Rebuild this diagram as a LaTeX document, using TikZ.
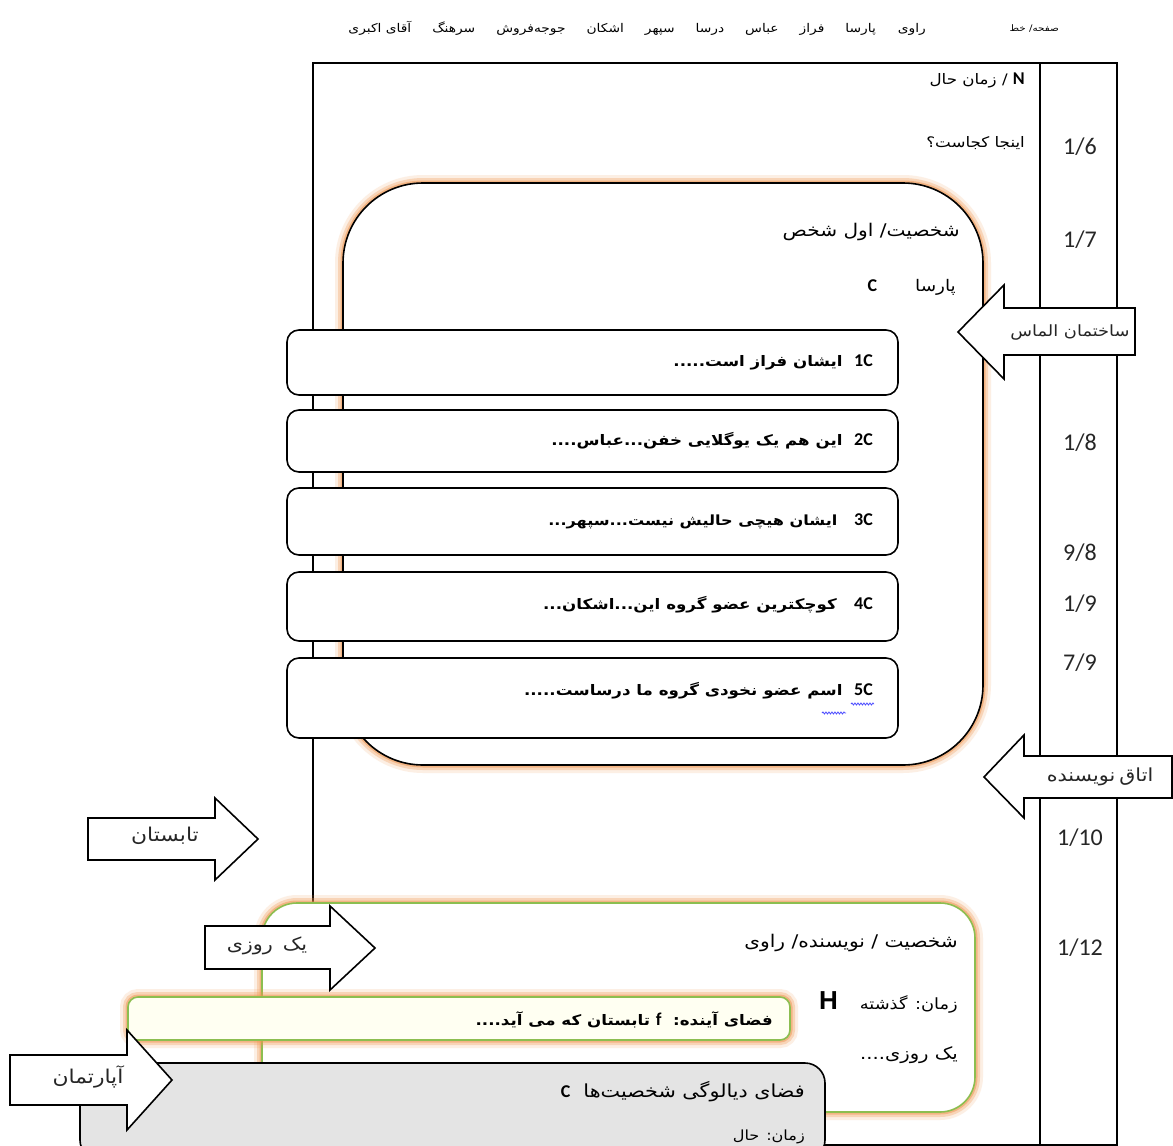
\documentclass[tikz,border=0pt]{standalone}
\usepackage{fontspec}
\setmainfont{Carlito}
\newfontfamily\fa[Script=Arabic, FakeStretch=1.15]{DejaVu Sans}
\TeXXeTstate=1
\usetikzlibrary{decorations.pathmorphing}
\definecolor{glowc}{RGB}{240,150,80}
\definecolor{grn}{RGB}{140,190,80}
\definecolor{ylw}{RGB}{255,255,242}
\definecolor{gry}{RGB}{228,228,228}
\newcommand\latb[1]{{\rmfamily\bfseries\fontsize{18}{20}\selectfont #1}}
\newcommand\fs[1]{\fontsize{#1}{#1}\selectfont}
\tikzset{
  x=1pt, y=-1pt,
  ln/.style={line width=1.6pt, black},
  glowbox/.style={preaction={draw=glowc, line width=16pt, opacity=0.15},
                  preaction={draw=glowc, line width=10pt, opacity=0.3},
                  preaction={draw=glowc, line width=5pt, opacity=0.5}},
  fatxt/.style={font=\fa\fs{14.5}, inner sep=0pt, anchor=east},
  fabold/.style={font=\fa\bfseries\fs{14.5}, inner sep=0pt, anchor=east},
  hdr/.style={font=\fa\fs{12}, inner sep=0pt},
  pgnum/.style={font=\fs{24}, inner sep=0pt, text=black!85},
  cbox/.style={ln, fill=white, rounded corners=12pt},
  barrow/.style={line width=1.6pt, fill=white, line join=miter},
  arrtxt/.style={font=\fa\fs{18}, inner sep=0pt, text=black!85},
  squig/.style={blue!70, line width=0.8pt, decorate, decoration={snake, amplitude=1pt, segment length=3pt}},
}
\begin{document}
\begin{tikzpicture}
\useasboundingbox (0,0) rectangle (1173,1146);
\fill[white] (0,0) rectangle (1173,1146);

% header
\node[hdr, anchor=east, font=\fa\fs{9}] (hpage) at (1059,28) {\beginR صفحه/ خط\endR};
\node[hdr, anchor=east] (hnames) at (926,28) {\beginR راوی\hspace{22pt}پارسا\hspace{21pt}فراز\hspace{21pt}عباس\hspace{21pt}درسا\hspace{21pt}سپهر\hspace{21pt}اشکان\hspace{21pt}جوجه‌فروش\hspace{21pt}سرهنگ\hspace{21pt}آقای اکبری\endR};

% frame
\draw[ln] (313,63) rectangle (1117,1145);
\draw[ln] (1040,63) -- (1040,1145);

\node[fatxt] (now) at (1025,80) {\beginR\latb{N} / زمان حال\endR};
\node[fatxt] (where) at (1025,143) {\beginR اینجا کجاست؟\endR};

% page numbers
\node[pgnum] (p16) at (1080,147) {1/6};
\node[pgnum] (p17) at (1080,240) {1/7};
\node[pgnum] (p18) at (1080,443) {1/8};
\node[pgnum] (p98) at (1080,553) {9/8};
\node[pgnum] (p19) at (1080,604) {1/9};
\node[pgnum] (p79) at (1080,663) {7/9};
\node[pgnum] (p110) at (1080,838) {1/10};
\node[pgnum] (p112) at (1080,948) {1/12};

% big rounded box
\draw[ln, glowbox, fill=white, rounded corners=80pt] (343,183) rectangle (983,765);
\node[fatxt, font=\fa\fs{17.5}] (pers) at (960,232) {\beginR شخصیت/ اول شخص\endR};
\node[fatxt, font=\fa\fs{16}] (parsa) at (956,287) {\beginR پارسا\hspace{38pt}\latb{C}\endR};

% C boxes
\draw[cbox] (287,330) rectangle (898,395);
\node[fabold] (c1) at (873,362) {\beginR\beginL\latb{1C}\endL\ \ ایشان فراز است.....\endR};
\draw[cbox] (287,410) rectangle (898,472);
\node[fabold] (c2) at (873,441) {\beginR\beginL\latb{2C}\endL\ \ این هم یک یوگلایی خفن...عباس....\endR};
\draw[cbox] (287,488) rectangle (898,555);
\node[fabold, font=\fa\bfseries\fs{14}] (c3) at (873,521) {\beginR\beginL\latb{3C}\endL\ \ \ ایشان هیچی حالیش نیست...سپهر...\endR};
\draw[cbox] (287,572) rectangle (898,641);
\node[fabold] (c4) at (873,605) {\beginR\beginL\latb{4C}\endL\ \ \ کوچکترین عضو گروه این...اشکان...\endR};
\draw[cbox] (287,658) rectangle (898,738);
\node[fabold] (c5) at (873,691) {\beginR\beginL\latb{5C}\endL\ \ اسم عضو نخودی گروه ما درساست.....\endR};
\draw[squig] (851,704) -- (874,704);
\draw[squig] (822,713) -- (846,713);

% arrows on the right
\draw[barrow] (1135,308) -- (1004,308) -- (1004,285) -- (958,332) -- (1004,379) -- (1004,355) -- (1135,355) -- cycle;
\node[arrtxt, font=\fa\fs{15.5}] (almas) at (1070,332) {\beginR ساختمان الماس\endR};
\draw[barrow] (1172,756) -- (1024,756) -- (1024,735) -- (984,777) -- (1024,818) -- (1024,798) -- (1172,798) -- cycle;
\node[arrtxt] (otagh) at (1100,777) {\beginR اتاق\hspace{4pt}نویسنده\endR};

% arrow tabestan
\draw[barrow] (88,818) -- (215,818) -- (215,798) -- (258,839) -- (215,880) -- (215,860) -- (88,860) -- cycle;
\node[arrtxt, font=\fa\fs{19}] (tab) at (165,836) {\beginR تابستان\endR};

% green box
\draw[grn, line width=1.6pt, glowbox, fill=white, rounded corners=35pt] (262,903) rectangle (975,1112);
\node[fatxt, font=\fa\fs{17.5}] (g1) at (958,943) {\beginR شخصیت / نویسنده/ راوی\endR};
\node[fatxt, font=\fa\fs{15.5}] (g2) at (958,1002) {\beginR زمان: گذشته\hspace{22pt}{\fontspec{Liberation Sans}\bfseries\fs{26}H}\endR};
\node[fatxt, font=\fa\fs{17}] (g3) at (958,1055) {\beginR یک روزی....\endR};

% yellow box
\draw[grn, line width=1.6pt, glowbox, fill=ylw, rounded corners=10pt] (128,997) rectangle (790,1040);
\node[fabold, font=\fa\bfseries\fs{14.5}] (y1) at (773,1020) {\beginR فضای آینده:\ \ \latb{f} تابستان که می آید....\endR};

% gray box
\draw[ln, fill=gry, rounded corners=20pt] (80,1063) rectangle (825,1160);
\node[fatxt, font=\fa\fs{18}] (d1) at (805,1092) {\beginR فضای دیالوگی شخصیت‌ها\ \ \latb{C}\endR};
\node[fatxt, font=\fa\fs{14}] (d2) at (805,1137) {\beginR زمان: حال\endR};

% arrow yek roozi
\draw[barrow] (205,926) -- (330,926) -- (330,906) -- (375,948) -- (330,990) -- (330,969) -- (205,969) -- cycle;
\node[arrtxt] (yek) at (267,946) {\beginR یک\hspace{10pt}روزی\endR};

% arrow apartment
\draw[barrow] (10,1055) -- (127,1055) -- (127,1030) -- (172,1080) -- (127,1130) -- (127,1105) -- (10,1105) -- cycle;
\node[arrtxt, font=\fa\fs{19}] (apt) at (88,1077) {\beginR آپارتمان\endR};
\end{tikzpicture}
\end{document}
